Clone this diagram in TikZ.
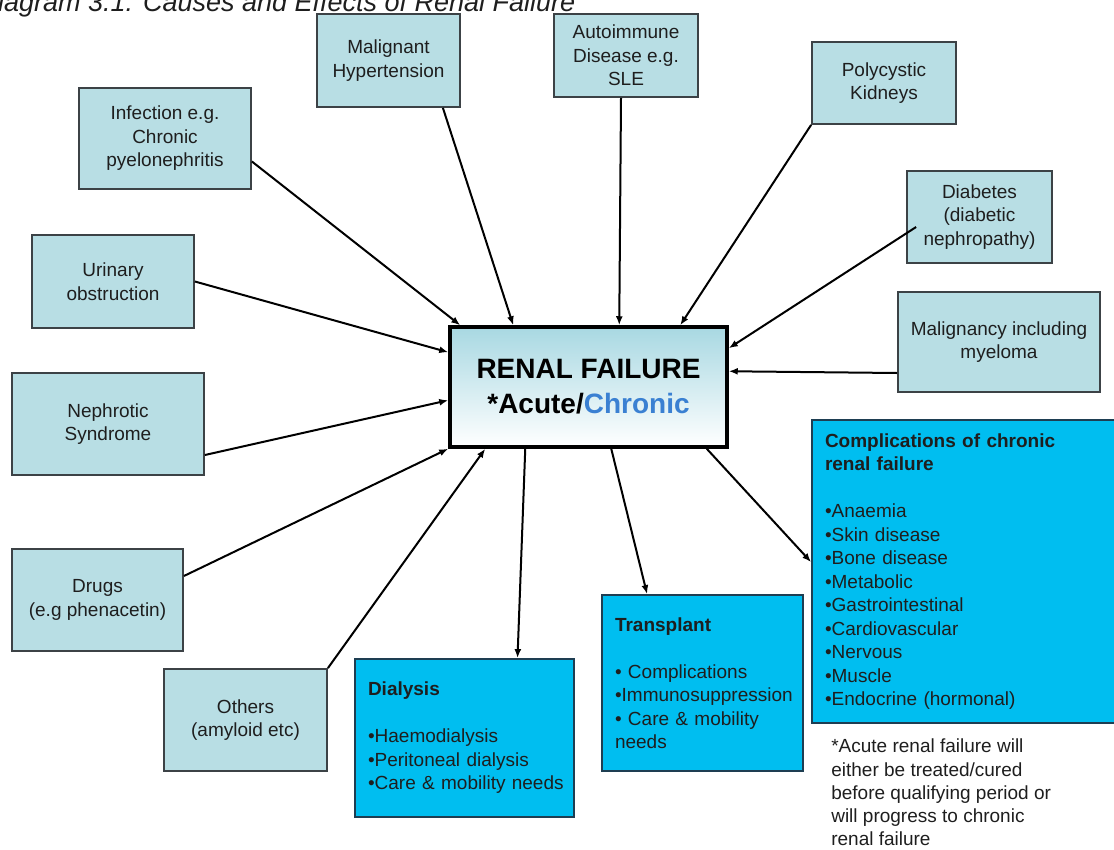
\documentclass[tikz,border=0pt]{standalone}
\usepackage{fontspec}
\setmainfont{Liberation Sans}
\usepackage{tikz}
\usetikzlibrary{arrows.meta,positioning,calc}
\definecolor{causefill}{RGB}{184,222,228}
\definecolor{causeline}{RGB}{60,66,70}
\definecolor{effectfill}{RGB}{0,190,240}
\definecolor{effectline}{RGB}{30,62,82}
\definecolor{renaltop}{RGB}{168,216,226}
\definecolor{chronicblue}{RGB}{58,128,210}
\definecolor{darktext}{RGB}{30,30,30}

\begin{document}
\begin{tikzpicture}
    [x=1pt, y=-1pt,
    cause/.style={rectangle, draw=causeline, line width=1.8pt, fill=causefill, text centered, align=center, text=darktext, font=\fontsize{19}{23.5}\selectfont, inner sep=2pt},
    effect/.style={rectangle, draw=effectline, line width=1.8pt, fill=effectfill, align=left, text=darktext, font=\fontsize{19}{23.5}\selectfont, inner xsep=13pt},
    arrow/.style={-{Latex[length=9pt,width=7pt]}, line width=2pt}]
    \useasboundingbox (0,0) rectangle (1114,849);
    \clip (0,0) rectangle (1114,849);

    \node (title) [anchor=base west, font=\fontsize{27}{32}\selectfont\itshape, text=darktext] at (-25,11) {Diagram 3.1: Causes and Effects of Renal Failure};

    \node (renal) [rectangle, draw=black, line width=3.5pt, top color=renaltop, bottom color=white, minimum width=277pt, minimum height=120pt, align=center, font=\fontsize{28}{35}\selectfont\bfseries] at (588.5,387) {RENAL FAILURE\\*Acute/\textcolor{chronicblue}{Chronic}};

    % causes
    \node (infect) [cause, minimum width=172pt, minimum height=101pt] at (165,138.5) {Infection e.g.\\Chronic\\pyelonephritis};
    \node (malig) [cause, minimum width=143pt, minimum height=93pt] at (388.5,60.5) {Malignant\\Hypertension};
    \node (autoimm) [cause, minimum width=144pt, minimum height=83pt] at (626,55.5) {Autoimmune\\Disease e.g.\\SLE};
    \node (polycys) [cause, minimum width=144pt, minimum height=82pt] at (884,83) {Polycystic\\Kidneys};
    \node (diab) [cause, minimum width=145pt, minimum height=92pt] at (979.5,217) {Diabetes\\(diabetic\\nephropathy)};
    \node (malign) [cause, minimum width=202pt, minimum height=100pt] at (999,342) {Malignancy including\\myeloma};
    \node (urin) [cause, minimum width=162pt, minimum height=93pt] at (113,281.5) {Urinary\\obstruction};
    \node (nephr) [cause, minimum width=192pt, minimum height=102pt] at (108,424) {Nephrotic\\Syndrome};
    \node (drugs) [cause, minimum width=171pt, minimum height=102pt] at (97.5,600) {Drugs\\(e.g phenacetin)};
    \node (others) [cause, minimum width=163pt, minimum height=102pt] at (245.5,720) {Others\\(amyloid etc)};

    % effects
    \node (dialysis) [effect, minimum width=219pt, minimum height=158pt, text width=193pt] at (464.5,738) {\textbf{Dialysis}\\[23.5pt]•Haemodialysis\\•Peritoneal dialysis\\\mbox{•Care \& mobility needs}};
    \node (transpl) [effect, minimum width=201pt, minimum height=176pt, text width=175pt] at (702.5,683) {\textbf{Transplant}\\[23.5pt]• Complications\\•Immunosuppression\\• Care \& mobility\\needs};
    \node (compl) [effect, minimum width=306pt, minimum height=303pt, text width=280pt] at (965,571.5) {\textbf{Complications of chronic}\\\textbf{renal failure}\\[23.5pt]•Anaemia\\•Skin disease\\•Bone disease\\•Metabolic\\•Gastrointestinal\\•Cardiovascular\\•Nervous\\•Muscle\\•Endocrine (hormonal)};

    \node (note) [below right=15pt and 20pt of compl.south west, align=left, inner sep=0pt, text=darktext, font=\fontsize{19}{23.2}\selectfont] {*Acute renal failure will\\either be treated/cured\\before qualifying period or\\will progress to chronic\\renal failure};

    \draw[arrow] ($(infect.east)+(0,23)$) -- ($(renal.north west)+(12,0)$);
    \draw[arrow] ($(malig.south east)+(-18,0)$) -- ($(renal.north west)+(65,0)$);
    \draw[arrow] ($(autoimm.south)+(-5,0)$) -- ($(renal.north west)+(171,0)$);
    \draw[arrow] (polycys.south west) -- ($(renal.north west)+(232,0)$);
    \draw[arrow] ($(diab.west)+(10,10)$) -- ($(renal.north east)+(0,23)$);
    \draw[arrow] ($(malign.west)+(0,31)$) -- ($(renal.north east)+(0,46)$);
    \draw[arrow] (urin.east) -- ($(renal.north west)+(0,27)$);
    \draw[arrow] ($(nephr.east)+(0,31)$) -- ($(renal.north west)+(0,75)$);
    \draw[arrow] ($(drugs.east)+(0,-24)$) -- (renal.south west);
    \draw[arrow] (others.north east) -- ($(renal.south west)+(37,0)$);

    \draw[arrow] ($(renal.south west)+(77,0)$) -- ($(dialysis.north)+(53,0)$);
    \draw[arrow] ($(renal.south west)+(163,0)$) -- ($(transpl.north west)+(46,0)$);
    \draw[arrow] ($(renal.south east)+(-22,0)$) -- ($(compl.north west)+(0,143)$);

  \end{tikzpicture}
\end{document}
